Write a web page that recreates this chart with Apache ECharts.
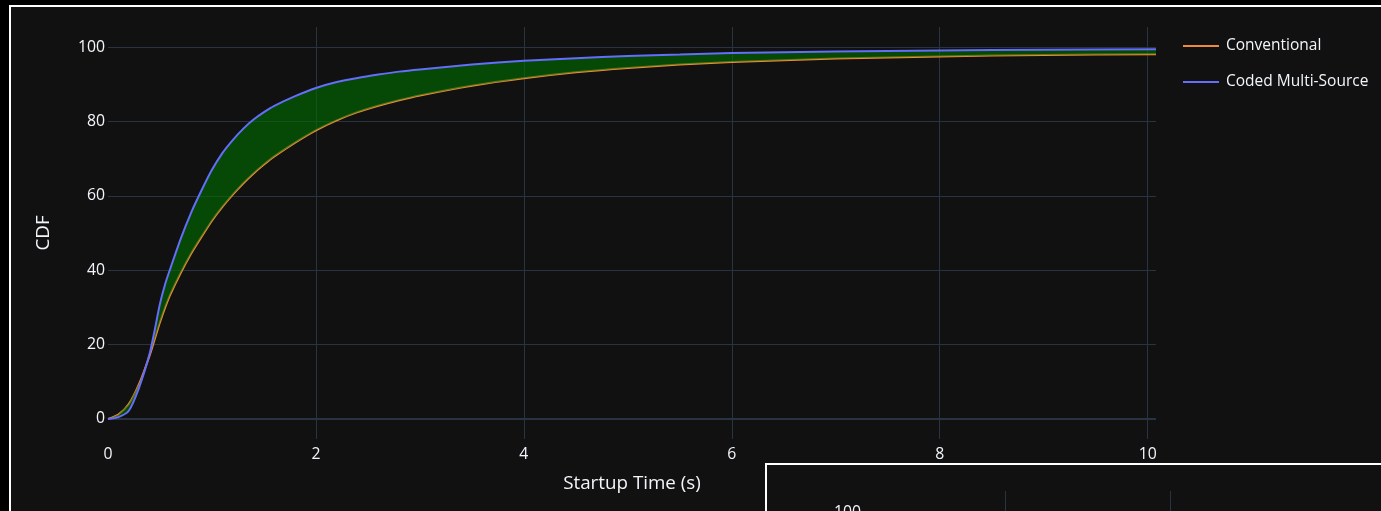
<!DOCTYPE html>
<html>
<head>
<meta charset="utf-8">
<script src="https://cdn.jsdelivr.net/npm/echarts@6/dist/echarts.min.js"></script>
<style>
  html, body { margin: 0; padding: 0; width: 1381px; height: 511px; overflow: hidden; background: #000; }
  #frame { position: absolute; left: 9px; top: 5px; right: 0; bottom: 0; background: #111111;
           border-left: 2px solid #ffffff; border-top: 2px solid #ffffff; }
  #main { position: absolute; left: 0; top: 0; width: 1381px; height: 511px; }
  #inset { position: absolute; left: 765px; top: 463px; width: 700px; height: 520px; background: #111111;
           border-left: 2px solid #ffffff; border-top: 2px solid #ffffff; overflow: hidden; }
  #insetChart { position: absolute; left: 0; top: 0; width: 700px; height: 520px; }
</style>
</head>
<body>
<div id="frame"></div>
<div id="main"></div>
<div id="inset"><div id="insetChart"></div></div>
<script>
// Startup time grid (seconds)
const startupTime = [0, 0.1, 0.2, 0.3, 0.4, 0.45, 0.5, 0.55, 0.6, 0.7, 0.8, 0.9, 1.0, 1.1, 1.2, 1.3, 1.4, 1.5, 1.6, 1.8,
  2.0, 2.2, 2.4, 2.6, 2.8, 3.0, 3.5, 4.0, 4.5, 5.0, 5.5, 6.0, 7.0, 8.0, 9.0, 10.08];

// CDF (%) for each delivery scheme
const conventional = [0, 1.2, 4, 9.5, 17, 21.5, 26, 30, 33.5, 39.3, 44.5, 49, 53.3, 57, 60.3, 63.3, 66, 68.4, 70.6, 74.3,
  77.6, 80.3, 82.5, 84.2, 85.7, 87, 89.6, 91.6, 93.2, 94.4, 95.3, 96, 96.9, 97.5, 97.9, 98.1];
const codedMultiSource = [0, 0.5, 2.2, 8.5, 17.5, 24, 31, 36.3, 40.5, 48.5, 55.5, 61.5, 67, 71.5, 75, 78, 80.5, 82.5, 84.2, 86.8,
  89, 90.6, 91.7, 92.6, 93.4, 94, 95.3, 96.3, 97.0, 97.6, 98.0, 98.4, 98.8, 99.1, 99.3, 99.4];

const seriesNames = ['Conventional', 'Coded Multi-Source'];
const xTickStep = 2;

const FONT = '"Open Sans", "DejaVu Sans", sans-serif';
const TEXT = '#f2f5fa';
const GRID = '#283442';
const ORANGE = '#EF8A3A';
const BLUE = '#636efa';

const pairs = (ys) => startupTime.map((x, i) => [x, ys[i]]);

// Polygon between the two CDF curves
function bandRenderer(params, api) {
  const upper = startupTime.map((x, i) => api.coord([x, codedMultiSource[i]]));
  const lower = startupTime.map((x, i) => api.coord([x, conventional[i]])).reverse();
  return {
    type: 'polygon',
    shape: { points: upper.concat(lower), smooth: 0 },
    style: { fill: 'rgba(0,110,0,0.6)' },
    silent: true
  };
}

function buildOption(cfg) {
  return {
    backgroundColor: 'transparent',
    animation: false,
    textStyle: { fontFamily: FONT },
    grid: cfg.grid,
    legend: cfg.legend,
    xAxis: {
      type: 'value', min: 0, max: cfg.xMax, interval: xTickStep,
      axisLine: { show: false }, axisTick: { show: false },
      splitLine: { show: true, showMinLine: false, showMaxLine: false, lineStyle: { color: GRID, width: 1 } },
      axisLabel: { show: cfg.showXLabels, color: TEXT, fontSize: 15.8, fontFamily: FONT, margin: 7,
                   showMinLabel: true, showMaxLabel: false },
      name: cfg.showXLabels ? 'Startup Time (s)' : '',
      nameLocation: 'middle', nameGap: 35,
      nameTextStyle: { color: TEXT, fontSize: 18.8, fontFamily: FONT }
    },
    yAxis: {
      type: 'value', min: -5.4, max: 105.4, splitNumber: 5,
      axisLine: { show: false }, axisTick: { show: false },
      splitLine: { show: true, showMinLine: false, showMaxLine: false, lineStyle: { color: GRID, width: 1 } },
      axisLabel: { color: TEXT, fontSize: 15.8, fontFamily: FONT, margin: cfg.yLabelMargin,
                   showMinLabel: false, showMaxLabel: false },
      name: cfg.showXLabels ? 'CDF' : '',
      nameLocation: 'middle', nameRotate: 90, nameGap: 55,
      nameTextStyle: { color: TEXT, fontSize: 18.8, fontFamily: FONT }
    },
    series: [
      {
        name: seriesNames[0], type: 'line', data: pairs(conventional),
        symbol: 'none', smooth: 0.25, z: 2,
        lineStyle: { color: ORANGE, width: 2 }, itemStyle: { color: ORANGE },
        markLine: {
          silent: true, symbol: 'none', label: { show: false },
          lineStyle: { color: GRID, width: 2, type: 'solid' },
          data: [{ yAxis: 0 }], z: 1
        }
      },
      {
        name: 'band', type: 'custom', data: [0], renderItem: bandRenderer, z: 3, silent: true
      },
      {
        name: seriesNames[1], type: 'line', data: pairs(codedMultiSource),
        symbol: 'none', smooth: 0.25, z: 4,
        lineStyle: { color: BLUE, width: 2 }, itemStyle: { color: BLUE }
      }
    ]
  };
}

const mainChart = echarts.init(document.getElementById('main'), null, { renderer: 'canvas' });
mainChart.setOption(buildOption({
  grid: { left: 108, right: 225, top: 27, bottom: 72, containLabel: false },
  xMax: 10.08,
  showXLabels: true,
  yLabelMargin: 3,
  legend: {
    orient: 'vertical', left: 1183, top: 38, padding: 0,
    icon: 'rect', itemWidth: 36, itemHeight: 2, itemGap: 20,
    textStyle: { color: TEXT, fontSize: 15.5, fontFamily: FONT, lineHeight: 16, padding: [0, 0, 0, 2] },
    data: seriesNames
  }
}));

// Second, smaller copy of the figure
const insetChart = echarts.init(document.getElementById('insetChart'), null, { renderer: 'canvas' });
insetChart.setOption(buildOption({
  grid: { left: 72, top: 26, width: 456, height: 431, containLabel: false },
  xMax: 5.5,
  showXLabels: false,
  yLabelMargin: -22,
  legend: { show: false }
}));
</script>
</body>
</html>
